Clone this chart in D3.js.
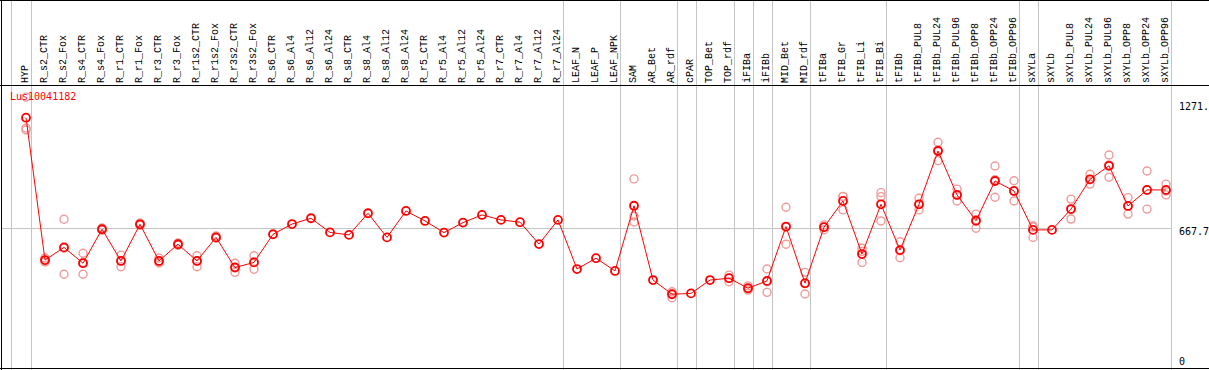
<!DOCTYPE html>
<html>
<head>
<meta charset="utf-8">
<script src="https://d3js.org/d3.v7.min.js"></script>
<style>
  body { margin: 0; background: #fff; }
  svg { display: block; }
</style>
</head>
<body>
<svg></svg>
<script>
// sample names, left to right
const samples = ["HYP","R_s2_CTR","R_s2_Fox","R_s4_CTR","R_s4_Fox","R_r1_CTR","R_r1_Fox","R_r3_CTR","R_r3_Fox",
  "R_r1s2_CTR","R_r1s2_Fox","R_r3s2_CTR","R_r3s2_Fox","R_s6_CTR","R_s6_Al4","R_s6_Al12","R_s6_Al24",
  "R_s8_CTR","R_s8_Al4","R_s8_Al12","R_s8_Al24","R_r5_CTR","R_r5_Al4","R_r5_Al12","R_r5_Al24",
  "R_r7_CTR","R_r7_Al4","R_r7_Al12","R_r7_Al24","LEAF_N","LEAF_P","LEAF_NPK","SAM","AR_Bet","AR_rdf",
  "cPAR","TOP_Bet","TOP_rdf","iFIBa","iFIBb","MID_Bet","MID_rdf","tFIBa","tFIB_Gr","tFIB_Li","tFIB_Bi",
  "tFIBb","tFIBb_PUL8","tFIBb_PUL24","tFIBb_PUL96","tFIBb_OPP8","tFIBb_OPP24","tFIBb_OPP96",
  "sXYLa","sXYLb","sXYLb_PUL8","sXYLb_PUL24","sXYLb_PUL96","sXYLb_OPP8","sXYLb_OPP24","sXYLb_OPP96"];

// mean expression per sample
const means = [1199,515,576,500,663,511,687,511,591,511,624,479,504,639,688,716,648,636,740,624,751,
  703,647,695,732,708,697,592,708,472,524,463,776,419,351,355,419,428,380,415,676,404,673,799,544,783,
  563,783,1039,828,704,895,847,660,660,760,903,968,775,852,852];

// individual replicates (only where they show apart from the mean)
const replicates = [
  [1298,1149,1140],[525,511,506],[711,447,572],[548,447,504],[669,660,660],[539,483,511],[693,683,683],
  [525,506,501],[597,587,587],[536,483,512],[631,621,621],[500,456,482],[536,471,506],
  [],[],[],[],[],[],[],[],[],[],[],[],[],[],[],[],[],[],[],
  [905,727,698],[],[363,334,354],[],[],[443,411,428],[391,371,376],[472,360,411],[769,591,674],
  [456,352,402],[684,660,674],[820,756,821],[572,504,557],[839,820,703],[603,526,560],[812,756,782],
  [1081,992,1044],[856,799,828],[736,668,709],[967,817,901],[896,799,845],[680,624,674],[],
  [808,712,760],[927,880,902],[1020,913,972],[815,736,773],[943,760,852],[880,828,847]];

// group separators, as fractional sample positions
const separators = [-0.8,0.24,28.24,31.24,34.24,35.24,37.24,38.24,39.24,41.24,45.24,52.24,53.24,60.24];

const yTicks = [0, 667.7, 1271];
const yTickLabels = ["0", "667.7", "1271."];
const geneName = "Lus10041182";

const W = 1209, H = 370;
const headerBottom = 85;

const svg = d3.select("svg").attr("width", W).attr("height", H);

const x = d3.scaleLinear().domain([0, samples.length - 1]).range([26, 1166]);
const y = d3.scaleLinear().domain([0, 1271]).range([367.3, 102.7]);

// grey grid
svg.append("g").selectAll("line").data(separators).enter().append("line")
  .attr("x1", d => Math.round(x(d)) + 0.5).attr("x2", d => Math.round(x(d)) + 0.5)
  .attr("y1", 0).attr("y2", H)
  .attr("stroke", "#c4c4c4").attr("stroke-width", 1);

svg.append("line")
  .attr("x1", 1).attr("x2", Math.round(x(60.24)) + 0.5)
  .attr("y1", Math.round(y(667.7)) + 0.5).attr("y2", Math.round(y(667.7)) + 0.5)
  .attr("stroke", "#c4c4c4");

// frame
svg.append("line").attr("x1", 0).attr("x2", W).attr("y1", 0.5).attr("y2", 0.5).attr("stroke", "#000");
svg.append("line").attr("x1", 0).attr("x2", W).attr("y1", headerBottom + 0.5).attr("y2", headerBottom + 0.5).attr("stroke", "#000");
svg.append("line").attr("x1", 0).attr("x2", W).attr("y1", H - 1.5).attr("y2", H - 1.5).attr("stroke", "#000");
svg.append("line").attr("x1", 1.5).attr("x2", 1.5).attr("y1", 0).attr("y2", H).attr("stroke", "#000");

// sample labels
svg.append("g").selectAll("text").data(samples).enter().append("text")
  .attr("transform", (d, i) => "translate(" + (x(i) + 2.2) + "," + (headerBottom - 2) + ") rotate(-90)")
  .style("font-family", "Liberation Mono, DejaVu Sans Mono, monospace")
  .style("font-size", "10px")
  .attr("fill", "#000")
  .text(d => d);

// y labels on the right
svg.append("g").selectAll("text").data(yTicks).enter().append("text")
  .attr("x", 1179)
  .attr("y", d => d === 0 ? y(d) - 2 : y(d))
  .attr("dominant-baseline", d => d === 0 ? "auto" : "hanging")
  .style("font-family", "DejaVu Sans Mono, monospace")
  .style("font-size", "10px")
  .attr("fill", "#000")
  .text((d, i) => yTickLabels[i]);

// replicate circles
const reps = [];
replicates.forEach((r, i) => r.forEach(v => reps.push({ i: i, v: v })));
svg.append("g").selectAll("circle").data(reps).enter().append("circle")
  .attr("cx", d => x(d.i)).attr("cy", d => y(d.v)).attr("r", 4)
  .attr("fill", "none").attr("stroke", "#f09a9a").attr("stroke-width", 1.4);

// mean line
svg.append("path").datum(means)
  .attr("fill", "none").attr("stroke", "#ff0000").attr("stroke-width", 1)
  .attr("d", d3.line().x((d, i) => x(i)).y(d => y(d)));

svg.append("g").selectAll("circle").data(means).enter().append("circle")
  .attr("cx", (d, i) => x(i)).attr("cy", d => y(d)).attr("r", 4)
  .attr("fill", "none").attr("stroke", "#ff0000").attr("stroke-width", 1.8);

// gene label
svg.append("text")
  .attr("x", 10).attr("y", 100)
  .style("font-family", "DejaVu Sans Mono, monospace")
  .style("font-size", "10px")
  .attr("fill", "#ff0000")
  .text(geneName);
</script>
</body>
</html>
